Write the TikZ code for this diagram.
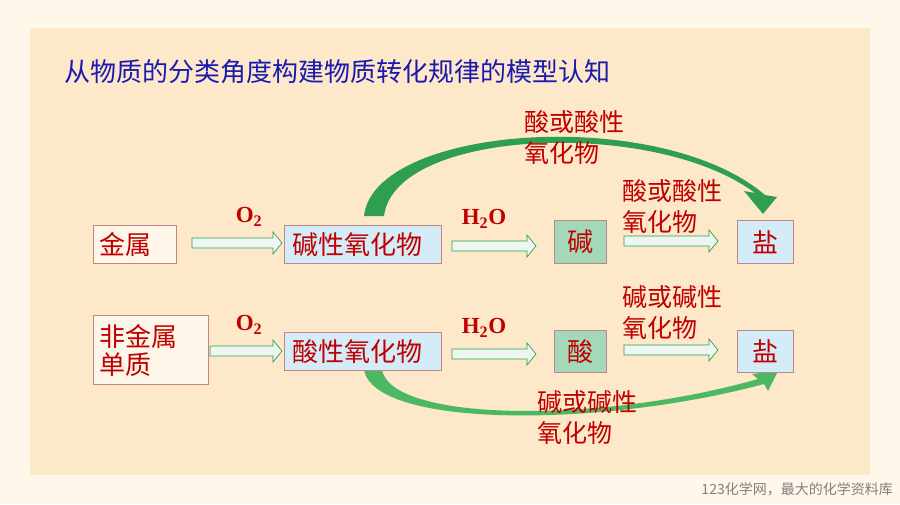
\documentclass[tikz,border=0pt]{standalone}
\usepackage{fontspec}
\setmainfont{Liberation Serif}
\newfontfamily\cjk{Noto Sans CJK SC}
\definecolor{outerbg}{HTML}{FFF7EA}
\definecolor{innerbg}{HTML}{FDE9C9}
\definecolor{txtred}{HTML}{C00000}
\definecolor{bord}{HTML}{C08585}
\definecolor{lblue}{HTML}{D4ECF7}
\definecolor{lgreen}{HTML}{A3D9B8}
\definecolor{agreen}{HTML}{2E9E4F}
\definecolor{agreen2}{HTML}{4CB864}
\definecolor{titleblue}{HTML}{1A1AB0}
\newcommand{\blkarrow}[3]{%
  \draw[blkst] (#1,#3-5) -- (#2-9,#3-5) -- (#2-9,#3-11) -- (#2,#3) -- (#2-9,#3+11) -- (#2-9,#3+5) -- (#1,#3+5) -- cycle;}
\begin{document}
\begin{tikzpicture}[x=1pt,y=-1pt,
  box/.style={draw=bord,line width=1pt,inner sep=0pt,font=\cjk\fontsize{26}{30}\selectfont,text=txtred,anchor=north west},
  blkst/.style={draw=agreen,fill=white!80!lgreen,line width=0.7pt},
  lbl/.style={font=\cjk\fontsize{25}{31}\selectfont,text=txtred,align=left,anchor=north west,inner sep=0pt},
  chem/.style={font=\bfseries\fontsize{23}{26}\selectfont,text=txtred,inner sep=0pt}]
\useasboundingbox (0,0) rectangle (900,504);
\fill[outerbg] (0,0) rectangle (900,504);
\fill[innerbg] (30,28) rectangle (870,475);
\node[anchor=west,inner sep=0pt,font=\cjk\fontsize{26}{30}\selectfont,text=titleblue] (title) at (64,72) {从物质的分类角度构建物质转化规律的模型认知};
% curved arrows
\fill[agreen] (364,216) .. controls (374,125) and (660,105) .. (765,195) -- (777,197) -- (763,214) -- (744,191) -- (755,193) .. controls (655,118) and (395,128) .. (384,216) -- cycle;
\fill[agreen2] (364,370) .. controls (375,428) and (600,428) .. (764,384) -- (768,391) -- (778,371) -- (752,374) -- (758,379) .. controls (600,424) and (392,422) .. (382,370) -- cycle;
% boxes
\node[box,fill=white!60!innerbg,minimum width=83pt,minimum height=38pt,text width=75pt,align=left] (jin) at (93,225) {\hspace*{2pt}金属};
\node[box,fill=lblue,minimum width=157pt,minimum height=38pt,text width=149pt,align=left] (jyh) at (284,225) {\hspace*{4pt}碱性氧化物};
\node[box,fill=lgreen,minimum width=52pt,minimum height=43pt] (jian) at (554,220) {碱};
\node[box,fill=lblue,minimum width=56pt,minimum height=43pt] (yan1) at (737,220) {盐};
\node[box,fill=white!60!innerbg,minimum width=115pt,minimum height=69pt,align=left,text width=107pt] (fjs) at (93,315) {\hspace*{2pt}非金属\\[-2pt]\hspace*{2pt}单质};
\node[box,fill=lblue,minimum width=157pt,minimum height=38pt,text width=149pt,align=left] (syh) at (284,332) {\hspace*{4pt}酸性氧化物};
\node[box,fill=lgreen,minimum width=52pt,minimum height=42pt] (suan) at (554,330) {酸};
\node[box,fill=lblue,minimum width=56pt,minimum height=42pt] (yan2) at (737,330) {盐};
% block arrows
\blkarrow{192}{282}{243}
\blkarrow{452}{536}{246}
\blkarrow{624}{718}{241}
\blkarrow{210}{282}{351}
\blkarrow{452}{536}{354}
\blkarrow{624}{718}{350}
% chem labels
\node[chem] (o1) at (249,217) {O\textsubscript{2}};
\node[chem] (o2) at (249,325) {O\textsubscript{2}};
\node[chem] (h1) at (484,219) {H\textsubscript{2}O};
\node[chem] (h2) at (484,328) {H\textsubscript{2}O};
% text labels
\node[lbl] (l1) at (524,110) {酸或酸性\\氧化物};
\node[lbl] (l2) at (622,179) {酸或酸性\\氧化物};
\node[lbl] (l3) at (622,285) {碱或碱性\\氧化物};
\node[lbl] (l4) at (537,390) {碱或碱性\\氧化物};
\node[anchor=east,inner sep=0pt,font=\cjk\fontsize{14}{16}\selectfont,text=gray] (wm) at (893,489) {123化学网，最大的化学资料库};
\end{tikzpicture}
\end{document}
